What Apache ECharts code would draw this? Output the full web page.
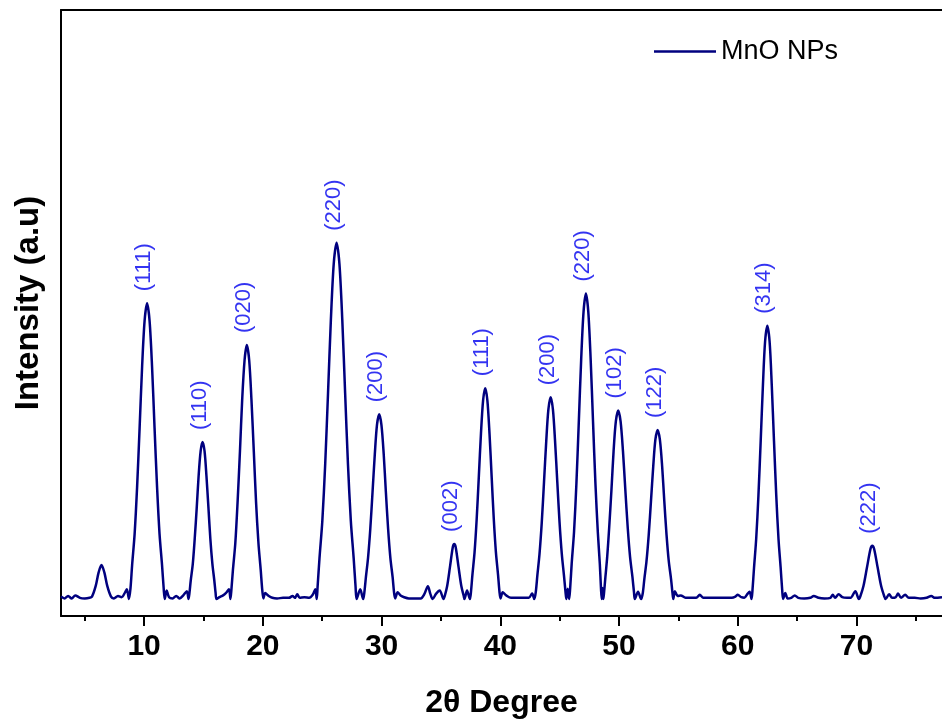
<!DOCTYPE html>
<html>
<head>
<meta charset="utf-8">
<script src="https://cdn.jsdelivr.net/npm/echarts@6/dist/echarts.min.js"></script>
<style>
html,body{margin:0;padding:0;background:#fff;}
#chart{width:942px;height:724px;}
</style>
</head>
<body>
<div id="chart"></div>
<script>
// 2θ positions (degrees)
var twoTheta = [
3.0,3.3,3.6,3.9,4.2,4.6,5.0,5.4,
5.61,5.93,6.17,6.41,6.65,6.89,7.21,
7.45,7.8,8.1,8.4,8.55,8.72,
8.85,8.99,9.20,9.41,9.62,9.83,10.04,10.25,10.46,10.67,10.88,11.09,11.30,11.51,11.65,
11.74,11.9,12.1,12.4,12.7,13.0,13.3,13.6,13.74,
13.82,13.93,14.10,14.26,14.43,14.59,14.76,14.92,15.09,15.25,15.42,15.58,15.75,15.91,16.02,
16.1,16.35,16.65,16.9,17.15,17.27,
17.35,17.48,17.68,17.87,18.07,18.26,18.46,18.65,18.85,19.04,19.24,19.43,19.63,19.82,19.95,
20.05,20.2,20.5,20.8,21.2,21.7,22.2,22.5,22.7,22.9,23.1,23.5,23.9,24.2,24.42,24.54,
24.61,24.77,25.01,25.25,25.49,25.73,25.97,26.21,26.45,26.69,26.93,27.17,27.41,27.65,27.81,
27.9,28.2,28.45,
28.55,28.68,28.86,29.05,29.24,29.43,29.61,29.80,29.99,30.18,30.36,30.55,30.74,30.93,31.05,
31.15,31.35,31.6,31.9,32.3,32.8,33.3,33.6,33.9,34.1,34.3,34.6,34.9,35.22,
35.32,35.52,35.76,36.0,36.12,36.24,36.48,36.72,36.92,
36.98,37.2,37.44,
37.53,37.65,37.83,38.01,38.19,38.37,38.55,38.73,38.91,39.09,39.27,39.45,39.63,39.81,39.93,
40.02,40.2,40.5,40.9,41.4,41.9,42.4,42.68,42.86,
42.99,43.12,43.30,43.49,43.68,43.87,44.05,44.24,44.43,44.61,44.80,44.99,45.18,45.36,45.49,
45.56,45.68,45.8,
45.88,46.01,46.21,46.41,46.61,46.81,47.01,47.21,47.41,47.61,47.81,48.01,48.21,48.38,48.48,
48.54,48.61,48.68,
48.74,48.85,49.0,49.17,49.36,49.54,49.73,49.93,50.13,50.33,50.53,50.73,50.93,51.13,51.26,
51.33,51.6,51.86,
52.0,52.13,52.31,52.5,52.69,52.88,53.06,53.25,53.44,53.63,53.81,54.0,54.19,54.38,54.5,
54.57,54.7,54.95,55.2,55.6,56.1,56.5,56.8,57.1,57.6,58.1,58.6,59.1,59.5,59.8,60.0,60.3,60.55,60.8,61.0,61.16,
61.24,61.37,61.55,61.74,61.93,62.12,62.30,62.49,62.68,62.86,63.05,63.24,63.43,63.61,63.74,
63.82,64.0,64.2,64.5,64.8,65.1,65.6,66.1,66.4,66.8,67.3,67.8,68.0,68.2,68.5,68.8,69.2,69.5,69.9,70.2,
70.33,70.58,70.88,71.18,71.33,71.48,71.78,72.08,72.33,
72.45,72.75,73.0,73.3,73.5,73.75,74.1,74.4,74.9,75.4,75.9,76.3,76.6,77.2
];
// intensity (a.u.)
var intensity = [
3.2,2.9,3.3,2.9,3.4,3.0,2.9,3.0,
3.2,5.0,7.2,8.4,7.2,5.0,3.2,
2.9,3.3,3.1,3.9,4.4,2.8,
4.5,8.4,13.5,21.3,31.0,41.1,48.7,51.6,48.7,41.1,31.0,21.3,13.5,8.4,4.5,
2.8,4.2,3.1,2.9,3.3,2.9,3.4,4.1,2.8,
3.8,5.9,8.6,12.7,17.8,23.1,27.2,28.7,27.2,23.1,17.8,12.7,8.6,5.9,3.8,
2.8,3.1,3.4,3.8,4.4,2.8,
4.3,7.6,12.0,18.7,27.1,35.7,42.2,44.7,42.2,35.7,27.1,18.7,12.0,7.6,4.3,
2.9,3.8,3.3,3.0,2.9,3.0,3.0,3.3,3.0,3.6,3.0,3.1,3.0,3.5,4.4,2.8,
4.8,9.5,15.7,25.0,36.8,48.9,58.1,61.6,58.1,48.9,36.8,25.0,15.7,9.5,4.8,
2.8,4.4,2.8,
3.9,6.4,9.6,14.4,20.5,26.7,31.5,33.3,31.5,26.7,20.5,14.4,9.6,6.4,3.9,
2.9,3.9,3.4,3.1,2.9,2.9,2.9,3.6,4.9,3.7,2.8,3.7,4.2,2.8,
3.3,4.9,8.1,11.4,11.9,11.4,8.1,4.9,3.3,
2.8,4.2,2.8,
4.0,6.8,10.5,16.0,23.0,30.1,35.6,37.6,35.6,30.1,23.0,16.0,10.5,6.8,4.0,
2.9,3.9,3.4,3.0,3.0,3.0,3.0,3.7,2.8,
4.0,6.7,10.2,15.4,22.1,28.9,34.1,36.1,34.1,28.9,22.1,15.4,10.2,6.7,4.0,
2.8,4.5,2.8,
4.5,8.6,13.9,21.9,32.0,42.3,50.2,53.2,50.2,42.3,32.0,21.9,13.9,8.6,4.5,
2.8,4.6,2.8,
3.9,6.4,9.7,14.6,20.8,27.2,32.1,33.9,32.1,27.2,20.8,14.6,9.7,6.4,3.9,
2.8,4.0,2.8,
3.8,6.1,9.0,13.4,19.0,24.7,29.1,30.7,29.1,24.7,19.0,13.4,9.0,6.1,3.8,
2.8,4.1,3.3,3.4,3.0,3.0,3.0,3.5,3.0,3.0,3.0,3.0,3.0,3.0,3.2,3.5,3.1,3.0,3.6,4.0,2.8,
4.3,8.0,12.7,19.9,28.9,38.2,45.3,47.9,45.3,38.2,28.9,19.9,12.7,8.0,4.3,
2.8,3.8,2.9,3.0,3.4,3.0,2.9,3.0,3.3,3.0,2.9,3.0,3.5,3.0,3.6,3.1,3.0,3.0,4.1,2.8,
3.3,4.9,8.0,11.1,11.6,11.1,8.0,4.9,3.3,
2.8,3.6,3.0,3.1,3.7,3.0,3.5,3.0,3.0,2.9,3.0,3.3,3.0,3.1
];
// peak annotations
var peakTheta = [10.25,14.92,18.65,26.21,29.80,36.12,38.73,44.24,47.21,49.93,53.25,62.49,71.33];
var peakTop   = [51.6,28.7,44.7,61.6,33.3,11.9,37.6,36.1,53.2,33.9,30.7,47.9,11.6];
var peakLabels = ['(111)','(110)','(020)','(220)','(200)','(002)','(111)','(200)','(220)','(102)','(122)','(314)','(222)'];
// axis ticks
var majorTicks = [10,20,30,40,50,60,70];
var minorTicks = [5,15,25,35,45,55,65,75];
var seriesName = 'MnO NPs';

var FONT = 'Liberation Sans, Arial, Helvetica, sans-serif';
var lineData = twoTheta.map(function(x,i){return [x, intensity[i]];});
var peakData = peakTheta.map(function(x,i){return {value:[x, peakTop[i]], name: peakLabels[i]};});

var chart = echarts.init(document.getElementById('chart'), null, {renderer:'canvas'});
chart.setOption({
  animation:false,
  backgroundColor:'#ffffff',
  grid:{left:61, right:0, top:10, bottom:105, containLabel:false},
  legend:{
    show:true, left:649, top:33, itemWidth:62, itemHeight:2.5,
    data:[{name:seriesName, icon:'rect'}],
    itemStyle:{color:'#00007f'},
    textStyle:{fontFamily:FONT, fontSize:27, color:'#000'}
  },
  xAxis:[
    {type:'value', min:3, max:77.2, position:'bottom',
     name:'2θ Degree', nameLocation:'middle', nameGap:71,
     nameTextStyle:{fontFamily:FONT, fontSize:32, fontWeight:'bold', color:'#000'},
     axisLine:{show:true, onZero:false, lineStyle:{color:'#000', width:2}},
     axisTick:{show:true, customValues:majorTicks, length:10, lineStyle:{color:'#000', width:2}},
     axisLabel:{show:true, customValues:majorTicks, margin:16, fontFamily:FONT, fontSize:30, fontWeight:'bold', color:'#000'},
     splitLine:{show:false}},
    {type:'value', min:3, max:77.2, position:'bottom',
     axisLine:{show:false},
     axisTick:{show:true, customValues:minorTicks, length:5, lineStyle:{color:'#000', width:2}},
     axisLabel:{show:false}, splitLine:{show:false}},
    {type:'value', min:3, max:77.2, position:'top',
     axisLine:{show:true, onZero:false, lineStyle:{color:'#000', width:2}},
     axisTick:{show:false}, axisLabel:{show:false}, splitLine:{show:false}}
  ],
  yAxis:[{
    type:'value', min:0, max:100,
    name:'Intensity (a.u)', nameLocation:'middle', nameGap:16,
    nameTextStyle:{fontFamily:FONT, fontSize:33, fontWeight:'bold', color:'#000', padding:[0,0,0,20]},
    axisLine:{show:true, onZero:false, lineStyle:{color:'#000', width:2}},
    axisTick:{show:false}, axisLabel:{show:false}, splitLine:{show:false}
  }],
  series:[
    {name:seriesName, type:'line', xAxisIndex:0, yAxisIndex:0,
     data:lineData, symbol:'none', smooth:0.3,
     lineStyle:{color:'#00007f', width:2.5}, itemStyle:{color:'#00007f'}},
    {name:'labels', type:'scatter', xAxisIndex:0, yAxisIndex:0,
     data:peakData, symbolSize:0, silent:true, z:5,
     label:{show:true, position:'top', distance:12, rotate:90, align:'left', verticalAlign:'middle',
            offset:[0,-3],
            formatter:function(p){return p.name;},
            fontFamily:FONT, fontSize:22, color:'#0000ee'}}
  ]
});
</script>
</body>
</html>
